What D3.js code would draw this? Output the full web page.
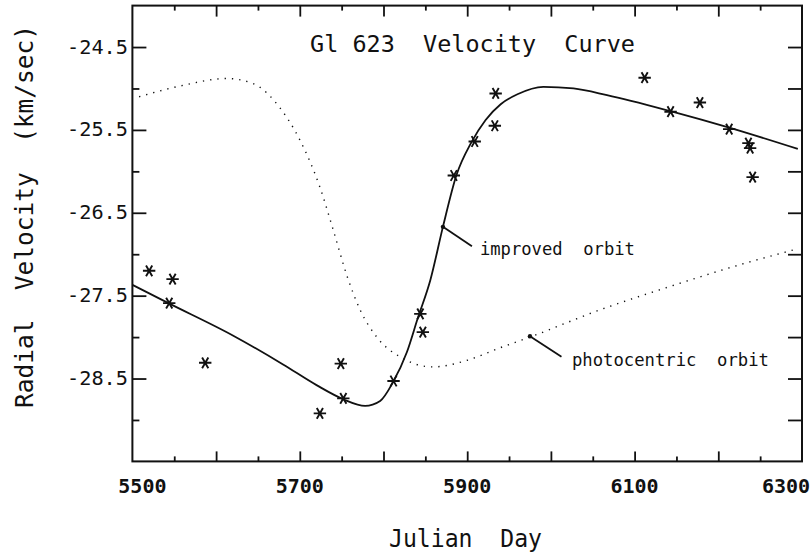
<!DOCTYPE html>
<html>
<head>
<meta charset="utf-8">
<script src="https://cdn.jsdelivr.net/npm/d3@7"></script>
<style>
  html, body { margin: 0; padding: 0; background: #fff; }
  text { font-family: "DejaVu Sans Mono", "Liberation Mono", monospace; fill: #111; white-space: pre; }
</style>
</head>
<body>
<svg id="chart" width="811" height="556"></svg>
<script>
// ---- data ----
const titleText = "Gl 623  Velocity  Curve";
const xTitle = "Julian  Day";
const yTitle = "Radial  Velocity  (km/sec)";

const xTickLabels = [5500, 5700, 5900, 6100, 6300];
const yTickLabels = [-24.5, -25.5, -26.5, -27.5, -28.5];

// observed radial velocities (Julian day, km/sec)
const obsDay = [5520, 5544, 5548, 5587, 5724, 5749, 5752, 5812, 5844, 5847, 5884, 5909, 5933, 5934, 6112, 6143, 6178, 6213, 6236, 6238, 6241];
const obsVel = [-27.20, -27.59, -27.30, -28.31, -28.92, -28.32, -28.74, -28.53, -27.72, -27.94, -26.05, -25.64, -25.45, -25.06, -24.87, -25.28, -25.17, -25.49, -25.66, -25.72, -26.07];

// improved orbit (solid)
const orbitDay = [5500, 5543, 5620, 5680, 5720, 5752, 5778, 5796, 5811, 5828, 5841, 5856, 5871, 5887, 5905, 5922, 5940, 5960, 5991, 6027, 6067, 6145, 6212, 6295];
const orbitVel = [-27.37, -27.59, -27.98, -28.33, -28.58, -28.75, -28.83, -28.77, -28.55, -28.18, -27.77, -27.31, -26.67, -26.05, -25.65, -25.38, -25.19, -25.07, -24.98, -25.00, -25.08, -25.28, -25.47, -25.73];

// photocentric orbit (dotted)
const photoDay = [5508, 5557, 5613, 5644, 5676, 5700, 5724, 5740, 5757, 5772, 5792, 5820, 5859, 5900, 5939, 5975, 6059, 6139, 6218, 6289];
const photoVel = [-25.10, -24.97, -24.88, -24.94, -25.23, -25.62, -26.19, -26.71, -27.28, -27.67, -28.00, -28.24, -28.36, -28.28, -28.13, -28.00, -27.67, -27.40, -27.15, -26.95];

// annotation anchors
const annLabels = ["improved  orbit", "photocentric  orbit"];
const annDay = [5871, 5975];
const annVel = [-26.67, -27.99];

// ---- layout ----
const svg = d3.select("#chart");
const L = 132.4, R = 802, T = 5.6, B = 461.4;
const x = d3.scaleLinear().domain([5500, 6300]).range([L, R]);
const y = d3.scaleLinear().domain([-29.5, -24]).range([B, T]);
const ink = "#111";

// frame
svg.append("rect").attr("x", L).attr("y", T).attr("width", R - L).attr("height", B - T)
  .attr("fill", "none").attr("stroke", ink).attr("stroke-width", 2);

// ticks (inward)
const xMajor = d3.range(5600, 6300, 100);
const xMinor = d3.range(5550, 6300, 100);
const yMajor = yTickLabels;
const yMinor = [-25, -26, -27, -28, -29];

const axB = d3.axisBottom(x).tickValues(xMajor).tickSize(-10).tickFormat("");
const axBm = d3.axisBottom(x).tickValues(xMinor).tickSize(-5).tickFormat("");
const axT = d3.axisTop(x).tickValues(xMajor).tickSize(-11).tickFormat("");
const axTm = d3.axisTop(x).tickValues(xMinor).tickSize(-5).tickFormat("");
const axL = d3.axisLeft(y).tickValues(yMajor).tickSize(-14).tickFormat("");
const axLm = d3.axisLeft(y).tickValues(yMinor).tickSize(-7).tickFormat("");
const axR = d3.axisRight(y).tickValues(yMajor.concat(yMinor)).tickSize(-14).tickFormat("");

function addAxis(ax, tr) {
  const g = svg.append("g").attr("transform", tr).call(ax);
  g.select(".domain").remove();
  g.selectAll("line").attr("stroke", ink).attr("stroke-width", 1.8);
}
addAxis(axB, `translate(0,${B})`);
addAxis(axBm, `translate(0,${B})`);
addAxis(axT, `translate(0,${T})`);
addAxis(axTm, `translate(0,${T})`);
addAxis(axL, `translate(${L},0)`);
addAxis(axLm, `translate(${L},0)`);
addAxis(axR, `translate(${R},0)`);

// x tick labels
const xLabelShift = { 5500: 10, 6300: -16 };
svg.append("g").selectAll("text").data(xTickLabels).join("text")
  .attr("x", d => x(d) + (xLabelShift[d] || 0))
  .attr("y", 493)
  .attr("text-anchor", "middle")
  .attr("font-size", 20)
  .attr("font-weight", "bold")
  .text(d => String(d));

// y tick labels
svg.append("g").selectAll("text").data(yTickLabels).join("text")
  .attr("x", 128)
  .attr("y", d => y(d) + 6.5)
  .attr("text-anchor", "end")
  .attr("font-size", 19)
  .attr("textLength", 61)
  .attr("lengthAdjust", "spacingAndGlyphs")
  .text(d => d.toFixed(1));

// titles
svg.append("text").attr("x", 310).attr("y", 52).attr("font-size", 23)
  .attr("textLength", 325).attr("lengthAdjust", "spacingAndGlyphs").text(titleText);
svg.append("text").attr("x", 389).attr("y", 547).attr("font-size", 24)
  .attr("textLength", 153).attr("lengthAdjust", "spacingAndGlyphs").text(xTitle);
svg.append("text").attr("transform", "translate(33,408) rotate(-90)").attr("font-size", 24)
  .attr("textLength", 383).attr("lengthAdjust", "spacingAndGlyphs").text(yTitle);

// curves
const orbit = orbitDay.map((d, i) => [d, orbitVel[i]]);
const photo = photoDay.map((d, i) => [d, photoVel[i]]);
const line = d3.line().x(d => x(d[0])).y(d => y(d[1])).curve(d3.curveMonotoneX);

svg.append("path").attr("d", line(photo)).attr("fill", "none")
  .attr("stroke", ink).attr("stroke-width", 1.4)
  .attr("stroke-dasharray", "1.3 6").attr("stroke-linecap", "butt");
svg.append("path").attr("d", line(orbit)).attr("fill", "none")
  .attr("stroke", ink).attr("stroke-width", 1.8);

// observation markers (asterisks)
const starPath = (() => {
  const r = 6.2; let p = "";
  [0, 60, 120].forEach(a => {
    const t = a * Math.PI / 180, dx = r * Math.cos(t), dy = r * Math.sin(t);
    p += `M${-dx},${-dy}L${dx},${dy}`;
  });
  return p;
})();
svg.append("g").selectAll("path").data(obsDay.map((d, i) => [d, obsVel[i]])).join("path")
  .attr("transform", d => `translate(${x(d[0])},${y(d[1])})`)
  .attr("d", starPath).attr("stroke", ink).attr("stroke-width", 1.9).attr("fill", "none");

// annotations
const annOffsets = [[29, 19.5, 37, 28.5], [31.5, 20.5, 42, 30]];
annLabels.forEach((lab, i) => {
  const ax0 = x(annDay[i]), ay0 = y(annVel[i]);
  const o = annOffsets[i];
  svg.append("circle").attr("cx", ax0).attr("cy", ay0).attr("r", 2.2).attr("fill", ink);
  svg.append("line").attr("x1", ax0).attr("y1", ay0).attr("x2", ax0 + o[0]).attr("y2", ay0 + o[1])
    .attr("stroke", ink).attr("stroke-width", 1.8);
  svg.append("text").attr("x", ax0 + o[2]).attr("y", ay0 + o[3]).attr("font-size", 17)
    .attr("textLength", i === 0 ? 155 : 197).attr("lengthAdjust", "spacingAndGlyphs").text(lab);
});
</script>
</body>
</html>
